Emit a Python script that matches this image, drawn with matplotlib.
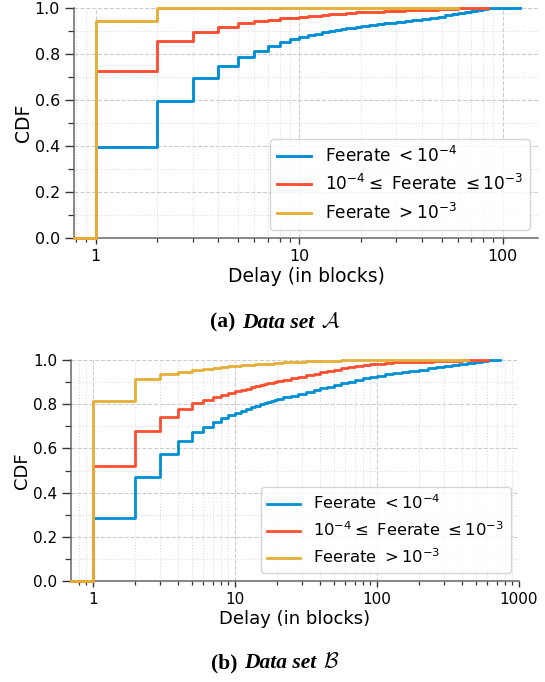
import matplotlib
matplotlib.use("Agg")
import matplotlib.pyplot as plt
import matplotlib.ticker as mticker
from matplotlib.offsetbox import TextArea, HPacker, AnchoredOffsetbox

# ---- data set A (top) ----
a_low_x = [1, 2, 3, 4, 5, 6, 7, 8, 9, 10, 11, 12, 13, 14, 15, 16, 17, 18, 19, 20,
           22, 24, 26, 28, 30, 33, 36, 40, 44, 48, 52, 56, 60, 65, 70, 75, 80, 85, 121]
a_low_y = [0.398, 0.597, 0.696, 0.750, 0.788, 0.816, 0.838, 0.853, 0.866, 0.875,
           0.882, 0.889, 0.895, 0.901, 0.905, 0.909, 0.913, 0.916, 0.920, 0.923,
           0.927, 0.931, 0.934, 0.937, 0.940, 0.944, 0.948, 0.952, 0.958, 0.963,
           0.969, 0.975, 0.980, 0.985, 0.989, 0.993, 0.996, 1.0, 1.0]
a_mid_x = [1, 2, 3, 4, 5, 6, 7, 8, 9, 10, 11, 12, 13, 14, 15, 16, 17, 18, 19, 20,
           22, 24, 26, 28, 30, 33, 36, 40, 44, 48, 52, 56, 60, 85]
a_mid_y = [0.729, 0.858, 0.897, 0.917, 0.934, 0.944, 0.951, 0.956, 0.960, 0.963,
           0.966, 0.968, 0.971, 0.974, 0.976, 0.977, 0.979, 0.980, 0.982, 0.983,
           0.985, 0.986, 0.988, 0.989, 0.990, 0.991, 0.992, 0.993, 0.994, 0.995,
           0.997, 0.998, 1.0, 1.0]
a_high_x = [1, 2, 60]
a_high_y = [0.946, 1.0, 1.0]

# ---- data set B (bottom) ----
b_low_x = [1, 2, 3, 4, 5, 6, 7, 8, 9, 10, 11, 12, 13, 14, 15, 16, 17, 18, 19, 20,
           22, 25, 28, 32, 36, 40, 45, 50, 56, 63, 70, 80, 90, 100, 115, 130, 150,
           170, 200, 230, 260, 300, 340, 380, 430, 490, 550, 610, 680, 735]
b_low_y = [0.286, 0.472, 0.573, 0.633, 0.674, 0.698, 0.719, 0.736, 0.750, 0.762,
           0.770, 0.778, 0.786, 0.793, 0.799, 0.805, 0.811, 0.816, 0.821, 0.825,
           0.831, 0.839, 0.846, 0.856, 0.864, 0.872, 0.879, 0.886, 0.894, 0.902,
           0.909, 0.917, 0.924, 0.929, 0.935, 0.940, 0.946, 0.951, 0.957, 0.963,
           0.969, 0.975, 0.979, 0.983, 0.987, 0.991, 0.995, 0.998, 1.0, 1.0]
b_mid_x = [1, 2, 3, 4, 5, 6, 7, 8, 9, 10, 11, 12, 13, 14, 15, 16, 17, 18, 19, 20,
           22, 25, 28, 32, 36, 40, 45, 50, 56, 63, 70, 80, 90, 100, 115, 130, 150,
           170, 200, 250, 300, 400, 500, 608]
b_mid_y = [0.520, 0.679, 0.742, 0.780, 0.804, 0.821, 0.833, 0.843, 0.852, 0.860,
           0.866, 0.871, 0.877, 0.882, 0.886, 0.890, 0.894, 0.898, 0.902, 0.904,
           0.910, 0.918, 0.925, 0.932, 0.938, 0.944, 0.950, 0.956, 0.962, 0.967,
           0.971, 0.976, 0.980, 0.983, 0.986, 0.989, 0.991, 0.992, 0.993, 0.995,
           0.996, 0.998, 0.999, 1.0]
b_high_x = [1, 2, 3, 4, 5, 6, 7, 8, 9, 10, 11, 12, 14, 16, 19, 22, 26, 32, 40, 56,
            80, 100, 440]
b_high_y = [0.816, 0.913, 0.937, 0.947, 0.955, 0.961, 0.965, 0.968, 0.971, 0.975,
            0.976, 0.977, 0.980, 0.983, 0.987, 0.990, 0.993, 0.995, 0.997, 0.998,
            0.999, 1.0, 1.0]

labels = [r"Feerate $< 10^{-4}$",
          r"$10^{-4} \leq$ Feerate $\leq 10^{-3}$",
          r"Feerate $> 10^{-3}$"]
colors = ["#008fd5", "#fc4f30", "#e5ae38"]


def draw_panel(ax, series, xlim, xticks, s):
    for (xs, ys), c, lab in zip(series, colors, labels):
        # ECDF starts at zero from the left edge of the axis
        ax.step([xlim[0]] + xs, [0.0] + ys, where="post", color=c, lw=2.0 * s,
                label=lab, clip_on=False, zorder=3)

    ax.set_xscale("log")
    ax.set_xlim(*xlim)
    ax.set_ylim(0, 1)
    ax.set_xticks(xticks)
    ax.xaxis.set_major_formatter(mticker.FuncFormatter(lambda v, p: f"{v:g}"))
    ax.xaxis.set_minor_locator(mticker.LogLocator(base=10, subs=range(2, 10), numticks=20))
    ax.xaxis.set_minor_formatter(mticker.NullFormatter())
    ax.yaxis.set_major_locator(mticker.MultipleLocator(0.2))
    ax.yaxis.set_minor_locator(mticker.MultipleLocator(0.1))
    ax.yaxis.set_major_formatter(mticker.FormatStrFormatter("%.1f"))

    ax.grid(True, which="major", ls="--", color="#cccccc", lw=0.8)
    ax.grid(True, which="minor", ls=":", color="#dddddd", lw=0.8)
    ax.set_axisbelow(True)

    for side in ("top", "right"):
        ax.spines[side].set_visible(False)
    for side in ("left", "bottom"):
        ax.spines[side].set_color("#666666")
        ax.spines[side].set_linewidth(1.1)

    ax.tick_params(axis="both", which="both", color="#333333", labelsize=11 * s)
    ax.tick_params(axis="x", which="major", length=4.3 * s, width=1)
    ax.tick_params(axis="x", which="minor", length=3 * s, width=0.9)
    ax.tick_params(axis="y", which="major", length=6.5 * s, width=1)
    ax.tick_params(axis="y", which="minor", length=4 * s, width=0.9)

    ax.set_xlabel("Delay (in blocks)", fontsize=13 * s, labelpad=2)
    ax.set_ylabel("CDF", fontsize=13 * s, labelpad=1)
    leg = ax.legend(loc="lower right", fontsize=11.8 * s, handlelength=2.0)
    leg.set_zorder(5)


def caption(fig, x, y, tag, letter, size):
    parts = [
        TextArea(tag, textprops=dict(fontfamily="Liberation Serif", fontweight="bold",
                                     fontsize=size)),
        TextArea("Data set", textprops=dict(fontfamily="Liberation Serif", fontweight="bold",
                                            fontstyle="italic", fontsize=size)),
        TextArea(r"$\mathcal{" + letter + "}$", textprops=dict(math_fontfamily="cm",
                                                              fontsize=size)),
    ]
    box = HPacker(children=parts, align="baseline", pad=0, sep=size * 0.3)
    anchored = AnchoredOffsetbox(loc="center", child=box, frameon=False, pad=0,
                                 borderpad=0, bbox_to_anchor=(x, y),
                                 bbox_transform=fig.transFigure)
    fig.add_artist(anchored)


fig = plt.figure(figsize=(5.45, 6.82), dpi=100)

ax_a = fig.add_axes([0.1358, 0.6506, 0.8514, 0.3372])
draw_panel(ax_a, [(a_low_x, a_low_y), (a_mid_x, a_mid_y), (a_high_x, a_high_y)],
           (0.782, 149), [1, 10, 100], 1.04)

ax_b = fig.add_axes([0.1303, 0.1481, 0.8215, 0.3240])
draw_panel(ax_b, [(b_low_x, b_low_y), (b_mid_x, b_mid_y), (b_high_x, b_high_y)],
           (0.703, 1000), [1, 10, 100, 1000], 1.0)

caption(fig, 275 / 545, 1 - 322 / 682, "(a)", "A", 15.5)
caption(fig, 275 / 545, 1 - 663 / 682, "(b)", "B", 15.5)

fig.savefig("out.png", dpi=100)
